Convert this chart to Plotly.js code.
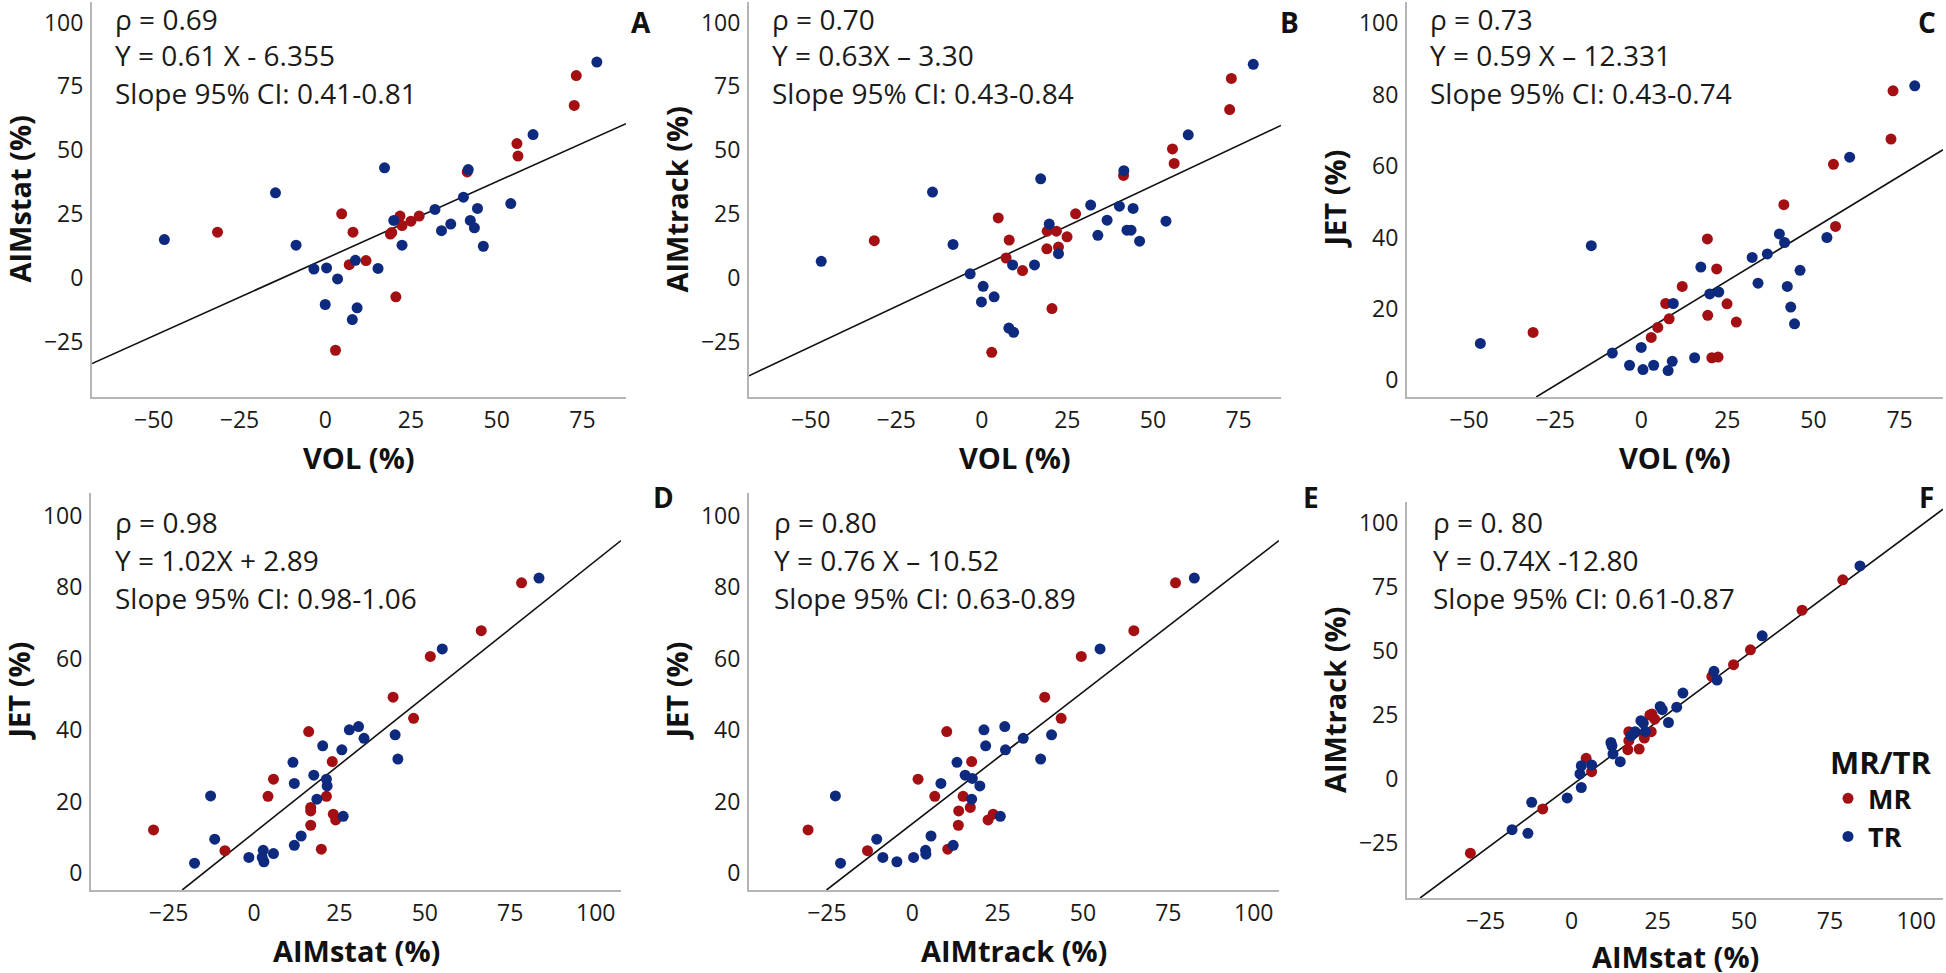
<!DOCTYPE html>
<html>
<head>
<meta charset="utf-8">
<script src="https://cdn.plot.ly/plotly-3.0.1.min.js"></script>
<style>
  html, body { margin: 0; padding: 0; background: #fff; }
  #chart { width: 1946px; height: 973px; }
</style>
</head>
<body>
<div id="chart"></div>
<script>
// values, one pair of arrays per group and panel

// A: VOL vs AIMstat
const A_MR_X = [-31.4, 4.8, 8.1, 7.0, 11.9, 3.0, 20.6, 19.0, 19.4, 21.8, 22.4, 25.0, 27.4, 41.4, 55.9, 56.2, 72.6, 73.2];
const A_MR_Y = [17.9, 25.1, 17.9, 5.2, 6.8, -28.3, -7.4, 17.2, 17.8, 24.2, 20.5, 22.2, 24.2, 41.5, 52.6, 47.7, 67.5, 79.2];
const A_TR_X = [-46.9, -14.5, -8.5, -3.3, 0.4, 3.6, 0, 9.3, 7.9, 8.8, 15.4, 17.3, 20.0, 22.4, 32.0, 33.9, 36.6, 40.3, 41.7, 42.3, 43.5, 44.4, 46.1, 54.1, 60.6, 79.2];
const A_TR_Y = [15.0, 33.3, 12.8, 3.5, 3.9, -0.4, -10.4, -11.7, -16.3, 6.9, 3.7, 43.1, 22.5, 12.8, 26.8, 18.5, 21.1, 31.6, 42.4, 22.5, 19.6, 27.2, 12.4, 29.1, 56.1, 84.5];

// B: VOL vs AIMtrack
const B_MR_X = [-31.4, 4.8, 8.0, 7.1, 11.9, 2.9, 20.5, 19.0, 19.1, 21.8, 22.4, 24.9, 27.4, 41.4, 55.7, 56.2, 72.4, 72.9];
const B_MR_Y = [14.6, 23.5, 14.8, 7.8, 2.9, -29.1, -12.0, 11.4, 18.3, 18.3, 12.1, 16.1, 25.1, 40.1, 50.5, 44.8, 65.9, 78.1];
const B_TR_X = [-46.9, -14.4, -8.4, -3.4, 0.4, -0.1, 3.6, 7.9, 9.3, 9.0, 15.4, 17.2, 19.7, 22.4, 31.8, 33.9, 36.6, 40.2, 41.5, 42.4, 43.6, 44.2, 46.1, 53.8, 60.3, 79.3];
const B_TR_Y = [6.5, 33.6, 13.1, 1.6, -3.3, -9.4, -7.4, -19.6, -21.3, 5.1, 5.1, 38.8, 21.1, 9.5, 28.5, 16.7, 22.6, 28.1, 42.0, 18.7, 18.7, 27.2, 14.4, 22.2, 56.0, 83.6];

// C: VOL vs JET
const C_MR_X = [-31.4, 2.9, 4.8, 7.1, 8.1, 11.9, 19.2, 19.3, 20.5, 22.3, 21.9, 24.9, 27.6, 41.4, 55.8, 56.4, 72.5, 73.1];
const C_MR_Y = [13.4, 12.0, 14.8, 21.5, 17.2, 26.3, 39.6, 18.2, 6.3, 6.5, 31.2, 21.4, 16.3, 49.2, 60.5, 43.1, 67.6, 81.1];
const C_TR_X = [-46.7, -14.5, -8.4, -3.4, 0, 0.5, 3.6, 7.8, 9.0, 9.3, 15.5, 17.3, 19.9, 22.5, 32.2, 33.9, 36.6, 40.1, 41.6, 42.4, 43.4, 44.5, 46.1, 53.9, 60.5, 79.4];
const C_TR_Y = [10.3, 37.7, 7.6, 4.2, 9.2, 3.0, 4.2, 2.7, 5.3, 21.5, 6.3, 31.7, 24.2, 24.7, 34.4, 27.2, 35.4, 41.0, 38.6, 26.3, 20.5, 15.8, 30.8, 40.0, 62.5, 82.5];

// D: AIMstat vs JET
const D_MR_X = [-29.4, -8.5, 4.1, 5.7, 16.0, 16.6, 16.6, 16.6, 19.7, 21.2, 22.9, 23.2, 23.9, 40.7, 46.7, 51.6, 66.5, 78.3];
const D_MR_Y = [12.1, 6.3, 21.5, 26.3, 39.6, 18.4, 17.4, 13.4, 6.7, 21.5, 31.2, 16.5, 14.9, 49.2, 43.3, 60.6, 67.8, 81.2];
const D_TR_X = [-17.4, -12.7, -11.5, -1.5, 2.7, 2.4, 2.9, 5.7, 11.4, 11.8, 11.8, 13.8, 17.5, 18.4, 20.1, 21.2, 21.4, 25.7, 26.1, 27.9, 30.6, 32.2, 41.3, 42.1, 55.1, 83.4];
const D_TR_Y = [2.8, 21.6, 9.5, 4.4, 6.4, 4.4, 3.2, 5.5, 31.0, 25.1, 7.8, 10.4, 27.4, 20.7, 35.6, 26.3, 24.4, 34.5, 15.9, 40.1, 41.0, 37.7, 38.7, 31.9, 62.7, 82.5];

// E: AIMtrack vs JET
const E_MR_X = [-30.5, -13.1, 1.7, 6.6, 10.1, 10.4, 13.5, 13.6, 14.9, 17.0, 17.4, 22.2, 23.7, 38.8, 43.6, 49.5, 64.9, 77.1];
const E_MR_Y = [12.1, 6.3, 26.3, 21.5, 39.6, 6.7, 13.4, 17.4, 21.5, 18.4, 31.2, 14.9, 16.5, 49.2, 43.3, 60.6, 67.8, 81.2];
const E_TR_X = [-22.5, -21.0, -10.4, -8.6, -4.5, 0.4, 3.9, 4.0, 5.5, 8.4, 12.0, 13.1, 15.5, 17.6, 17.4, 19.8, 21.0, 21.5, 25.8, 27.1, 27.3, 32.5, 37.6, 40.8, 55.0, 82.6];
const E_TR_Y = [21.6, 2.8, 9.5, 4.4, 3.2, 4.4, 6.4, 5.3, 10.4, 25.1, 7.8, 31.0, 27.4, 26.5, 20.7, 24.4, 40.1, 35.6, 15.9, 41.0, 34.5, 37.7, 31.9, 38.7, 62.7, 82.5];

// F: AIMstat vs AIMtrack
const F_MR_X = [-29.4, -8.4, 4.2, 5.8, 16.3, 16.6, 16.6, 19.6, 21.1, 23.1, 23.3, 24.1, 22.7, 40.7, 47.0, 51.9, 66.9, 78.7];
const F_MR_Y = [-29.0, -11.7, 8.1, 2.9, 11.5, 18.5, 15.0, 11.7, 16.0, 18.5, 25.4, 23.4, 25.0, 40.1, 44.7, 50.5, 66.0, 77.9];
const F_TR_X = [-17.3, -12.7, -11.6, -1.3, 2.8, 2.4, 2.8, 5.8, 11.4, 11.7, 12.0, 14.1, 17.2, 18.4, 20.1, 20.8, 21.4, 25.7, 26.3, 28.1, 30.5, 32.3, 41.3, 42.2, 55.3, 83.7];
const F_TR_Y = [-19.8, -21.2, -9.1, -7.4, -3.3, 2.0, 5.2, 5.5, 14.3, 13.0, 9.8, 6.8, 16.9, 18.5, 22.8, 21.9, 18.6, 28.4, 27.1, 22.1, 28.1, 33.6, 42.1, 38.7, 56.0, 83.3];

// fit lines as drawn (end points)
const FIT_A_X = [-68, 87.7],  FIT_A_Y = [-33.5, 60.4];
const FIT_B_X = [-68, 87.4],  FIT_B_Y = [-38.3, 59.7];
const FIT_C_X = [-30.5, 87.6], FIT_C_Y = [-4.7, 64.6];
const FIT_D_X = [-21, 107.4], FIT_D_Y = [-4.7, 93];
const FIT_E_X = [-25.1, 107.4], FIT_E_Y = [-4.7, 93];
const FIT_F_X = [-44, 107.8], FIT_F_Y = [-46.5, 105.5];

const LETTERS = ['A', 'B', 'C', 'D', 'E', 'F'];
const RHO = ['ρ = 0.69', 'ρ = 0.70', 'ρ = 0.73', 'ρ = 0.98', 'ρ = 0.80', 'ρ = 0. 80'];
const EQN = ['Y = 0.61 X - 6.355', 'Y = 0.63X – 3.30', 'Y = 0.59 X – 12.331', 'Y = 1.02X + 2.89', 'Y = 0.76 X – 10.52', 'Y = 0.74X -12.80'];
const CI = ['Slope 95% CI: 0.41-0.81', 'Slope 95% CI: 0.43-0.84', 'Slope 95% CI: 0.43-0.74', 'Slope 95% CI: 0.98-1.06', 'Slope 95% CI: 0.63-0.89', 'Slope 95% CI: 0.61-0.87'];
const X_TITLES = ['VOL (%)', 'VOL (%)', 'VOL (%)', 'AIMstat (%)', 'AIMtrack (%)', 'AIMstat (%)'];
const Y_TITLES = ['AIMstat (%)', 'AIMtrack (%)', 'JET (%)', 'JET (%)', 'JET (%)', 'AIMtrack (%)'];

const TICKS_VOL = [-50, -25, 0, 25, 50, 75];
const TICKS_AIM = [-25, 0, 25, 50, 75, 100];
const TICKS_JET = [0, 20, 40, 60, 80, 100];

const GROUPS = ['MR', 'TR'];
const COLORS = { MR: '#a30f12', TR: '#0e2a7e' };

const W = 1946, H = 973;
const px = x => x / W;
const py = y => 1 - y / H;

// plot boxes in pixels: left, right, top, bottom
const BOX = [
    [92, 626, 2, 397], [749, 1281, 2, 397], [1407, 1943, 2, 397],
    [91, 621, 493, 890], [749, 1279, 493, 890], [1407, 1943, 502, 898]
];
const X_RANGE = [[-68, 87.7], [-68, 87.4], [-68, 87.6], [-47.7, 107.4], [-47.8, 107.4], [-47.8, 107.8]];
const Y_RANGE = [[-46.6, 108], [-46.6, 108], [-4.7, 106], [-4.7, 106.3], [-4.7, 106.3], [-46.5, 108.3]];
const X_TICKS = [TICKS_VOL, TICKS_VOL, TICKS_VOL, TICKS_AIM, TICKS_AIM, TICKS_AIM];
const Y_TICKS = [TICKS_AIM, TICKS_AIM, TICKS_JET, TICKS_JET, TICKS_JET, TICKS_AIM];
const TEXT_X = [113, 770, 1428, 113, 772, 1431];
const TEXT_Y = [[19, 55, 93], [19, 55, 93], [19, 55, 93], [522, 560, 598], [522, 560, 598], [522, 560, 598]];
const LETTER_POS = [[641, 22], [1289, 22], [1927, 22], [663, 497], [1311, 497], [1926, 497]];

const panels = [
    { mr: [A_MR_X, A_MR_Y], tr: [A_TR_X, A_TR_Y], fit: [FIT_A_X, FIT_A_Y] },
    { mr: [B_MR_X, B_MR_Y], tr: [B_TR_X, B_TR_Y], fit: [FIT_B_X, FIT_B_Y] },
    { mr: [C_MR_X, C_MR_Y], tr: [C_TR_X, C_TR_Y], fit: [FIT_C_X, FIT_C_Y] },
    { mr: [D_MR_X, D_MR_Y], tr: [D_TR_X, D_TR_Y], fit: [FIT_D_X, FIT_D_Y] },
    { mr: [E_MR_X, E_MR_Y], tr: [E_TR_X, E_TR_Y], fit: [FIT_E_X, FIT_E_Y] },
    { mr: [F_MR_X, F_MR_Y], tr: [F_TR_X, F_TR_Y], fit: [FIT_F_X, FIT_F_Y] }
];

const FONT = 'Open Sans, Noto Sans, sans-serif';
const traces = [];
const annotations = [];
const layout = {
    width: W, height: H,
    margin: { l: 0, r: 0, t: 0, b: 0 },
    paper_bgcolor: '#fff', plot_bgcolor: '#fff',
    font: { family: FONT, color: '#1a1a1a' },
    showlegend: true,
    legend: {
        x: px(1828), y: py(734), xanchor: 'left', yanchor: 'top',
        title: { text: 'MR/TR', font: { family: FONT, size: 31, weight: 700, color: '#111' } },
        font: { family: FONT, size: 27, weight: 700, color: '#111' },
        bgcolor: 'rgba(0,0,0,0)', tracegroupgap: 0, itemwidth: 30
    }
};

panels.forEach((p, i) => {
    const n = i === 0 ? '' : String(i + 1);
    const xa = 'x' + n, ya = 'y' + n;
    const [l, r, t, b] = BOX[i];

    traces.push({
        x: p.fit[0], y: p.fit[1], xaxis: xa, yaxis: ya,
        type: 'scatter', mode: 'lines', showlegend: false, hoverinfo: 'skip',
        line: { color: '#111', width: 1.6 }
    });
    GROUPS.forEach(g => {
        const d = g === 'MR' ? p.mr : p.tr;
        traces.push({
            x: d[0], y: d[1], xaxis: xa, yaxis: ya, name: g,
            type: 'scatter', mode: 'markers', showlegend: i === 5,
            marker: { color: COLORS[g], size: 11 }
        });
    });

    const axisBase = {
        showgrid: false, zeroline: false, showline: true,
        linecolor: '#b5b5b5', linewidth: 2,
        ticks: 'outside', ticklen: 1, tickcolor: 'rgba(0,0,0,0)',
        tickfont: { family: FONT, size: 23, color: '#1a1a1a' },
        tickmode: 'array', fixedrange: true
    };
    layout['xaxis' + n] = Object.assign({}, axisBase, {
        domain: [px(l), px(r)], range: X_RANGE[i], anchor: ya,
        tickvals: X_TICKS[i]
    });
    layout['yaxis' + n] = Object.assign({}, axisBase, {
        domain: [py(b), py(t)], range: Y_RANGE[i], anchor: xa,
        tickvals: Y_TICKS[i], ticklen: 2
    });

    // stats text block
    [RHO[i], EQN[i], CI[i]].forEach((txt, k) => {
        annotations.push({
            xref: 'paper', yref: 'paper', x: px(TEXT_X[i]), y: py(TEXT_Y[i][k]),
            xanchor: 'left', yanchor: 'middle', showarrow: false, text: txt,
            font: { family: FONT, size: 28, color: '#1a1a1a' }
        });
    });
    // panel letter
    annotations.push({
        xref: 'paper', yref: 'paper', x: px(LETTER_POS[i][0]), y: py(LETTER_POS[i][1]),
        xanchor: 'center', yanchor: 'middle', showarrow: false, text: LETTERS[i],
        font: { family: FONT, size: 28, weight: 700, color: '#111' }
    });
    // axis titles
    annotations.push({
        xref: 'paper', yref: 'paper', x: px((l + r) / 2), y: py(b + (i === 5 ? 58 : 60)),
        xanchor: 'center', yanchor: 'middle', showarrow: false, text: X_TITLES[i],
        font: { family: FONT, size: 29, weight: 700, color: '#111' }
    });
    annotations.push({
        xref: 'paper', yref: 'paper', x: px(l - 73), y: py((t + b) / 2),
        xanchor: 'center', yanchor: 'middle', showarrow: false, text: Y_TITLES[i],
        textangle: -90,
        font: { family: FONT, size: 29, weight: 700, color: '#111' }
    });
});

layout.annotations = annotations;

Plotly.newPlot('chart', traces, layout, { displayModeBar: false, staticPlot: true });
</script>
</body>
</html>
